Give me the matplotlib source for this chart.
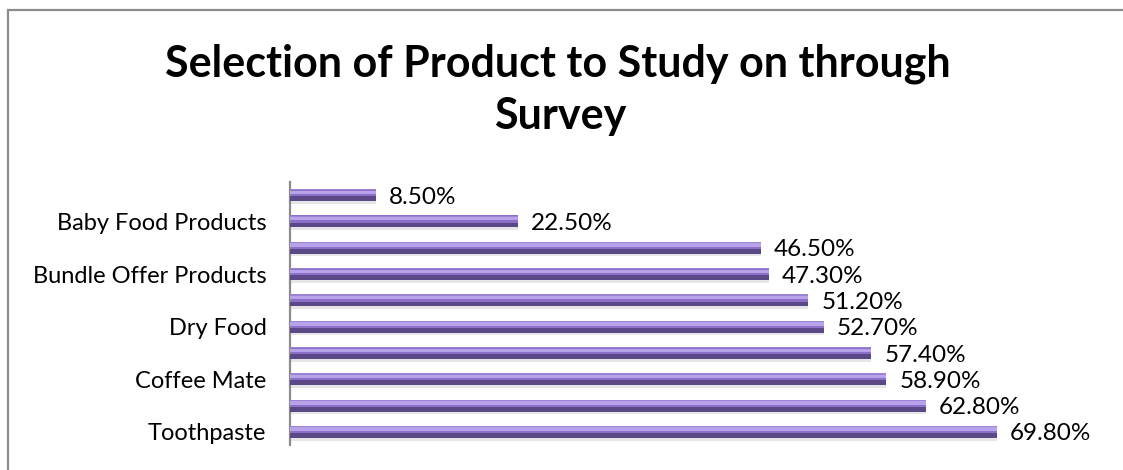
import matplotlib
matplotlib.use("Agg")
import matplotlib.pyplot as plt
from matplotlib.patches import Rectangle

categories = ["Toothpaste", "", "Coffee Mate", "", "Dry Food", "",
              "Bundle Offer Products", "", "Baby Food Products", ""]
values = [69.8, 62.8, 58.9, 57.4, 52.7, 51.2, 47.3, 46.5, 22.5, 8.5]
value_labels = ["69.80%", "62.80%", "58.90%", "57.40%", "52.70%", "51.20%",
                "47.30%", "46.50%", "22.50%", "8.50%"]
title_lines = ["Selection of Product to Study on through", "Survey"]

plt.rcParams['font.family'] = ['Lato', 'DejaVu Sans']

W, H = 1123, 470
fig = plt.figure(figsize=(W/100, H/100), dpi=100)
fig.patch.set_facecolor("white")

# outer border (left and top visible)
fig.patches.append(Rectangle((8/W, -0.2), 1.2, (H-10)/H + 0.2,
                             transform=fig.transFigure, fill=False,
                             edgecolor="#8c8c8c", linewidth=1.6))

ax = fig.add_axes([290/W, 1-445/H, 810/W, (445-182)/H])
y = list(range(len(values)))
h = 0.46
# soft shadow
ax.barh([p - 0.10 for p in y], values, height=h, color="#dcdcdc", alpha=0.7, zorder=1)
# main body
ax.barh(y, values, height=h, color="#8c6fc9", zorder=2)
# dark lower part
ax.barh([p - h*0.30 for p in y], values, height=h*0.40, color="#5b4886", zorder=3)
# light top highlight
ax.barh([p + h*0.22 for p in y], values, height=h*0.28, color="#b8a2ea", zorder=4)
# thin top edge
ax.barh([p + h*0.44 for p in y], values, height=h*0.10, color="#9c84d4", zorder=5)

for p, v, lab in zip(y, values, value_labels):
    ax.text(v + 1.3, p - 0.08, lab, va="center", ha="left", fontsize=17.5, color="black")

ax.set_xlim(0, 80)
ax.set_ylim(-0.5, len(values) - 0.5)
ax.set_yticks(y)
ax.set_yticklabels(categories, fontsize=17)
ax.tick_params(axis="y", length=0, pad=17)
ax.set_xticks([])
for s in ["top", "right", "bottom"]:
    ax.spines[s].set_visible(False)
ax.spines["left"].set_color("#8c8c8c")
ax.spines["left"].set_linewidth(1.6)
ax.set_facecolor("none")

fig.text(0.497, 1-76/H, title_lines[0], ha="center", va="baseline", fontsize=31,
         fontweight="bold", color="black")
fig.text(0.499, 1-129/H, title_lines[1], ha="center", va="baseline", fontsize=31,
         fontweight="bold", color="black")

fig.savefig("out.png", dpi=100)
